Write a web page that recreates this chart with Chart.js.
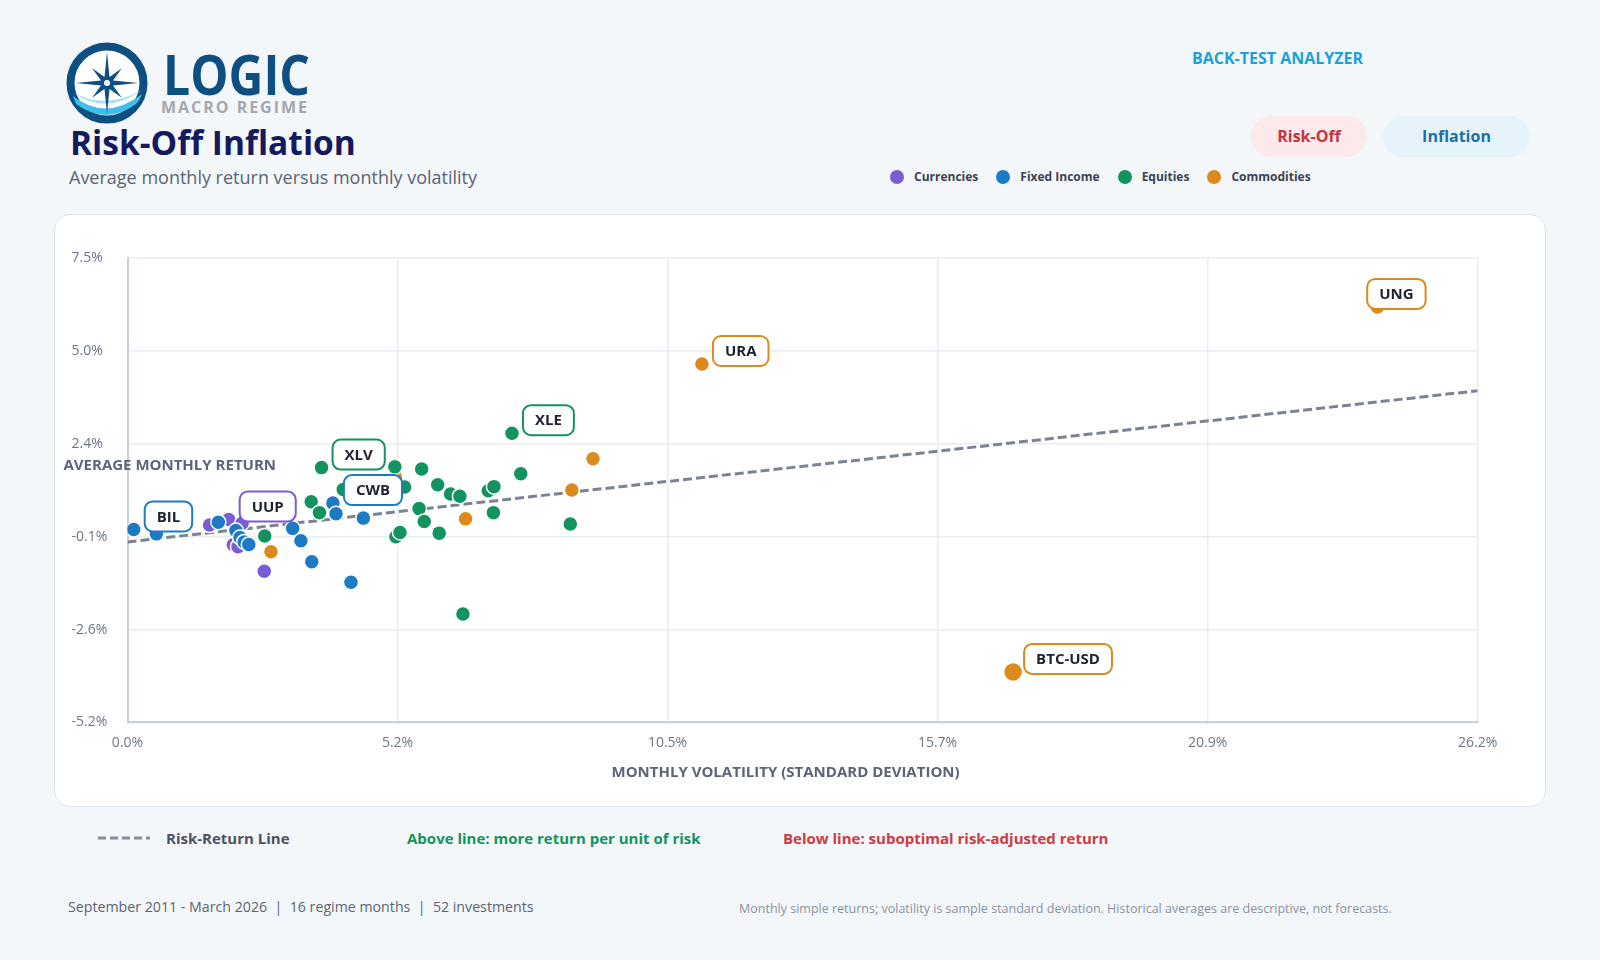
<!DOCTYPE html>
<html>
<head>
<meta charset="utf-8">
<script src="https://cdn.jsdelivr.net/npm/chart.js@4.4.1/dist/chart.umd.min.js"></script>
<style>
  body { margin:0; width:1600px; height:960px; background:#f4f7fa; font-family:'Open Sans', sans-serif; position:relative; overflow:hidden; }
  .abs { position:absolute; white-space:nowrap; }
  #title { left:70px; top:120px; font-size:33.5px; font-weight:700; color:#151a5e; line-height:44px; }
  #subtitle { left:69px; top:165px; font-size:18px; color:#5a6373; line-height:24px; }
  #analyzer { left:1160px; width:235px; text-align:center; top:48px; font-size:16px; font-weight:700; color:#1aa0dc; line-height:20px; }
  .pill { top:116px; height:41px; line-height:41px; border-radius:21px; text-align:center; font-size:16px; font-weight:700; }
  #pill1 { left:1251px; width:116px; background:#fce9eb; color:#c8333d; }
  #pill2 { left:1383px; width:147px; background:#e6f3fb; color:#1b6fa8; }
  #legend { left:890px; top:167px; display:flex; align-items:center; font-size:12px; font-weight:700; color:#3b4252; line-height:20px; }
  #legend .dot { width:14px; height:14px; border-radius:7px; margin-right:10px; }
  #legend .item { display:flex; align-items:center; margin-right:18px; }
  #card { left:54px; top:214px; width:1490px; height:591px; background:#fff; border:1px solid #dde5ee; border-radius:16px; }
  #my-chart { position:absolute; left:54px; top:214px; }
  #lineKey { left:96px; top:835px; }
  .note { top:827px; font-size:15px; font-weight:700; line-height:22px; }
  #foot1 { left:68px; top:897px; font-size:14.2px; color:#5b6472; line-height:20px; }
  #foot2 { left:739px; top:900px; font-size:12.5px; color:#8a92a0; line-height:18px; }
</style>
</head>
<body>
<svg class="abs" style="left:60px;top:36px" width="270" height="92">
  <circle cx="47" cy="47" r="36.5" fill="#fff" stroke="#0d4f80" stroke-width="8"/>
  <path d="M 13 60 Q 46 86 82 58 Q 80 64 76 68 Q 46 90 16 68 Z" fill="#3fc0ec"/>
  <path d="M 14 57 Q 46 80 82 54 Q 46 74 14 57 Z" fill="#a8e2f6"/>
  <path id="star" fill="#0d4f80"/>
  <circle cx="47" cy="47" r="3" fill="#fff"/>
  <text x="103" y="59" font-family="Open Sans" font-weight="700" font-size="56" fill="#0d4f80" textLength="147" lengthAdjust="spacingAndGlyphs">LOGIC</text>
  <text x="101" y="77" font-family="Open Sans" font-weight="700" font-size="16" fill="#a4a8ad" textLength="146" lengthAdjust="spacing">MACRO REGIME</text>
</svg>
<div id="title" class="abs">Risk-Off Inflation</div>
<div id="subtitle" class="abs">Average monthly return versus monthly volatility</div>
<div id="analyzer" class="abs">BACK-TEST ANALYZER</div>
<div id="pill1" class="abs pill">Risk-Off</div>
<div id="pill2" class="abs pill">Inflation</div>
<div id="legend" class="abs"></div>
<div id="card" class="abs"></div>
<canvas id="my-chart" width="1492" height="593"></canvas>
<svg id="lineKey" class="abs" width="56" height="6"><line x1="2" y1="3" x2="54" y2="3" stroke="#868e9b" stroke-width="3" stroke-dasharray="8 4"/></svg>
<div class="abs note" style="left:166px;color:#4a5263">Risk-Return Line</div>
<div class="abs note" style="left:407px;color:#13935e">Above line: more return per unit of risk</div>
<div class="abs note" style="left:783px;color:#d03a40">Below line: suboptimal risk-adjusted return</div>
<div id="foot1" class="abs">September 2011 - March 2026&nbsp; |&nbsp; 16 regime months&nbsp; |&nbsp; 52 investments</div>
<div id="foot2" class="abs">Monthly simple returns; volatility is sample standard deviation. Historical averages are descriptive, not forecasts.</div>

<script>
// values in percent: monthly volatility (x) and average monthly return (y)
const categories = ['Currencies', 'Fixed Income', 'Equities', 'Commodities'];
const colors = ['#7a5cd4', '#1b7bc4', '#12935f', '#db8a1b'];

const currVol = [1.59, 1.96, 2.22, 2.05, 2.14, 2.65];
const currRet = [0.23, 0.38, 0.28, -0.31, -0.36, -1.03];
const currNames = ['', 'UUP', '', '', '', ''];

const fixedVol = [0.12, 0.56, 1.76, 2.10, 2.18, 2.26, 2.35, 3.20, 3.36, 3.57, 4.33, 3.98, 4.04, 4.57];
const fixedRet = [0.11, -0.01, 0.31, 0.08, -0.11, -0.23, -0.30, 0.14, -0.20, -0.77, -1.33, 0.83, 0.54, 0.42];
const fixedNames = ['BIL', '', '', '', '', '', '', '', '', '', '', 'CWB', '', ''];

const eqVol = [3.76, 5.18, 5.70, 3.56, 3.72, 4.18, 5.37, 6.01, 6.26, 6.44, 5.65, 5.75, 6.04, 5.20, 5.28, 6.99, 7.10, 7.09, 7.62, 7.45, 8.58, 6.50, 2.66];
const eqRet = [1.80, 1.82, 1.76, 0.87, 0.57, 1.20, 1.27, 1.33, 1.08, 1.02, 0.68, 0.33, 0.01, -0.09, 0.03, 1.17, 1.28, 0.57, 1.63, 2.74, 0.26, -2.20, -0.07];
const eqNames = ['XLV', '', '', '', '', '', '', '', '', '', '', '', '', '', '', '', '', '', '', 'XLE', '', '', ''];

const comVol = [2.78, 5.19, 6.55, 8.61, 9.02, 11.13, 24.22, 17.16];
const comRet = [-0.50, 1.54, 0.40, 1.19, 2.04, 4.63, 6.19, -3.78];
const comNames = ['', '', '', '', '', 'URA', 'UNG', 'BTC-USD'];

// risk-return line end points
const trendVol = [0, 26.16];
const trendRet = [-0.23, 3.90];

const xTicks = [0, 5.232, 10.464, 15.696, 20.928, 26.16];
const yTicks = [-5.16, -2.624, -0.088, 2.448, 4.984, 7.52];

// logo star
let pts = [];
for (let k = 0; k < 16; k++) {
    let a = (k * 22.5 - 90) * Math.PI / 180;
    let r = k % 2 ? 6.5 : (k % 4 === 0 ? 31 : 21);
    pts.push((47 + r * Math.cos(a)).toFixed(2) + ' ' + (47 + r * Math.sin(a)).toFixed(2));
}
document.getElementById('star').setAttribute('d', 'M ' + pts.join(' L ') + ' Z');

// html legend
let legendBox = document.getElementById('legend');
categories.forEach((c, i) => {
    legendBox.innerHTML += '<div class="item"><div class="dot" style="background:' + colors[i] + '"></div>' + c + '</div>';
});

function toPoints(xs, ys) {
    return xs.map((x, i) => ({ x: x, y: ys[i] }));
}

const groups = [
    { vol: currVol, ret: currRet, names: currNames, order: 3 },
    { vol: fixedVol, ret: fixedRet, names: fixedNames, order: 2 },
    { vol: eqVol, ret: eqRet, names: eqNames, order: 1 },
    { vol: comVol, ret: comRet, names: comNames, order: 4 }
];

let datasets = groups.map((g, i) => ({
    label: categories[i],
    data: toPoints(g.vol, g.ret),
    names: g.names,
    order: g.order,
    backgroundColor: colors[i],
    borderColor: '#ffffff',
    borderWidth: 1.5,
    pointRadius: ctx => g.names[ctx.dataIndex] === 'BTC-USD' ? 9.5 : 7.5,
    pointHoverRadius: 8
}));

datasets.push({
    label: 'Risk-Return Line',
    data: toPoints(trendVol, trendRet),
    showLine: true,
    order: 5,
    borderColor: '#7b8392',
    borderWidth: 3,
    borderDash: [9, 4],
    pointRadius: 0,
    fill: false
});

const axisTitles = {
    id: 'axisTitles',
    afterDraw: chart => {
        const c = chart.ctx;
        const area = chart.chartArea;
        c.save();
        c.font = '700 15px "Open Sans"';
        c.fillStyle = '#5b6577';
        c.textBaseline = 'middle';
        c.textAlign = 'left';
        c.fillText('AVERAGE MONTHLY RETURN', area.left - 64, area.top + 208);
        c.textAlign = 'center';
        c.fillText('MONTHLY VOLATILITY (STANDARD DEVIATION)', (area.left + area.right) / 2 - 17, area.bottom + 50);
        c.restore();
    }
};

const pointTags = {
    id: 'pointTags',
    afterDatasetsDraw: chart => {
        const c = chart.ctx;
        const area = chart.chartArea;
        c.save();
        c.font = '700 15px "Open Sans"';
        chart.data.datasets.forEach((ds, di) => {
            if (!ds.names) return;
            const meta = chart.getDatasetMeta(di);
            ds.names.forEach((name, i) => {
                if (!name) return;
                const el = meta.data[i];
                const w = c.measureText(name).width + 24;
                const h = 30;
                let bx = Math.min(el.x + 11, area.right - 52 - w);
                const by = el.y - 28;
                c.beginPath();
                c.roundRect(bx, by, w, h, 8);
                c.fillStyle = '#ffffff';
                c.fill();
                c.lineWidth = 2;
                c.strokeStyle = ds.backgroundColor;
                c.stroke();
                c.fillStyle = '#1c2230';
                c.textAlign = 'center';
                c.textBaseline = 'middle';
                c.fillText(name, bx + w / 2, by + h / 2 + 1);
            });
        });
        c.restore();
    }
};

let myChart = document.getElementById('my-chart').getContext('2d');

const riskChart = new Chart(myChart, {
    type: 'scatter',
    data: { datasets: datasets },
    options: {
        responsive: false,
        animation: false,
        layout: { padding: { left: 17.5, right: 68.4, top: 44.2, bottom: 0 } },
        plugins: {
            legend: { display: false },
            tooltip: { enabled: false }
        },
        scales: {
            x: {
                type: 'linear',
                min: 0,
                max: 26.16,
                afterBuildTicks: s => { s.ticks = xTicks.map(v => ({ value: v })); },
                afterFit: s => { s.height = 84.6; },
                grid: { color: '#e8edf3', lineWidth: 1.5, drawTicks: false },
                border: { color: '#c6d1dc', width: 2 },
                ticks: {
                    padding: 12,
                    color: '#6b7689',
                    font: { family: 'Open Sans', size: 14 },
                    callback: v => v.toFixed(1) + '%'
                }
            },
            y: {
                type: 'linear',
                min: -5.16,
                max: 7.52,
                afterBuildTicks: s => { s.ticks = yTicks.map(v => ({ value: v })); },
                afterFit: s => { s.width = 56; },
                grid: { color: '#e8edf3', lineWidth: 1.5, drawTicks: false },
                border: { color: '#c6d1dc', width: 2 },
                ticks: {
                    crossAlign: 'far',
                    padding: 12,
                    color: '#6b7689',
                    font: { family: 'Open Sans', size: 14 },
                    callback: v => v.toFixed(1) + '%'
                }
            }
        }
    },
    plugins: [axisTitles, pointTags]
});
</script>
</body>
</html>
